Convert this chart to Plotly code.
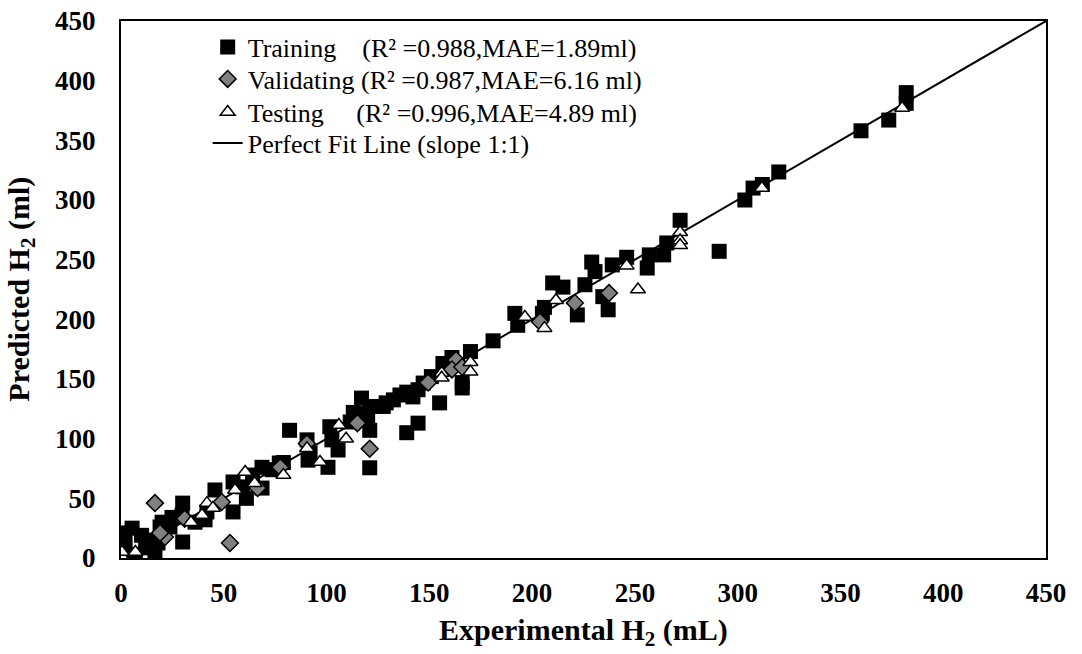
import plotly.graph_objects as go

# Training (black squares)
train_x = [0.5, 0, 5.4, 10, 15, 16.5, 7, 12, 18, 2, 4,
           19, 23.8, 20, 24.8, 29.7, 30, 30, 36, 40.9, 41.8, 45.7, 54.5, 54.5, 61, 59, 64, 68.6, 77, 68.6,
           73.5, 79, 82, 90.5, 91, 92, 101.6, 102.6, 105.6, 100.7, 117, 118, 121, 121, 113, 120, 111.5, 121,
           127.6, 129, 132.5, 135.7, 139, 142, 144.5, 147, 151, 155, 156.6, 161, 170, 166, 166, 144.5, 139,
           181, 191.6, 193, 205, 206, 210, 215, 222, 225.7, 229, 230.6, 234.4, 237, 239, 246, 256, 257, 264,
           265.5, 272, 291, 303.5, 307.5, 312, 320, 360, 373.5, 382, 382]
train_y = [21, 9, 25, 19, 15, 5, 1, 8.5, 12.6, 14, 3,
           26, 26, 30, 34, 36, 46, 13.4, 30, 32, 38.6, 57, 63.7, 38.6, 50, 59.6, 69.5, 76, 79.6, 58.6,
           74, 80, 107, 99, 82, 88, 110, 99, 90.5, 76, 134, 121, 127, 107, 122, 116, 114, 75.6,
           127, 130, 132.5, 136.6, 139, 135, 141, 146.6, 152, 130, 163, 168, 173, 142.5, 147, 113, 105,
           182, 205, 195, 205, 210, 230.5, 227, 203.7, 229, 248, 240, 219, 208, 245.6, 252, 243, 254, 254,
           264, 283, 257, 300, 310, 313, 323.5, 358, 367, 390, 381]

# Validating (grey diamonds)
val_x = [16.5, 21.4, 19, 31, 49, 53, 66.5, 77.5, 90.4, 115, 121, 149.4, 163, 161, 166, 203.8, 220.8, 237.4]
val_y = [46, 17.6, 21, 33, 47, 12.6, 58.6, 76, 96, 113, 91.6, 147, 166, 158, 160, 198, 213.7, 222]

# Testing (open triangles)
test_x = [0, 0, 0.5, 7, 34, 39.4, 41.8, 44.7, 55.5, 60.4, 65, 79, 90.5, 96.8, 106, 109.5,
          156, 156, 170, 170, 196.5, 206, 211.6, 246, 251.5, 272, 272, 272, 311.8, 380]
test_y = [0, 2, 5, 5, 30, 36, 46, 42, 57, 72, 62.6, 69.5, 92, 80.5, 111.5, 100,
          155, 151, 164, 156, 202, 192.6, 216, 245, 225, 273, 266, 262, 310, 377]

fit_x = [0, 450]
fit_y = [0, 450]

x_ticks = [0, 50, 100, 150, 200, 250, 300, 350, 400, 450]
y_ticks = [0, 50, 100, 150, 200, 250, 300, 350, 400, 450]

NB = "\u00a0"
FONT = "Liberation Serif, Times New Roman, serif"

fig = go.Figure()
fig.add_trace(go.Scatter(x=fit_x, y=fit_y, mode="lines", line=dict(color="black", width=2),
                         name="Perfect Fit Line (slope 1:1)", legend="legend4"))
fig.add_trace(go.Scatter(x=train_x, y=train_y, mode="markers",
                         marker=dict(symbol="square", size=15, color="black"),
                         name="Training" + NB * 4 + "(R\u00b2 =0.988,MAE=1.89ml)", legend="legend"))
fig.add_trace(go.Scatter(x=val_x, y=val_y, mode="markers",
                         marker=dict(symbol="diamond", size=13, color="#808080",
                                     line=dict(color="black", width=1.5)),
                         name="Validating (R\u00b2 =0.987,MAE=6.16 ml)", legend="legend2"))
fig.add_trace(go.Scatter(x=test_x, y=test_y, mode="markers",
                         marker=dict(symbol="triangle-up", size=13, color="white",
                                     line=dict(color="black", width=1.5)),
                         name="Testing" + NB * 5 + "(R\u00b2 =0.996,MAE=4.89 ml)", legend="legend3"))

axis_common = dict(
    showline=True, linecolor="black", linewidth=2, mirror=True,
    showgrid=False, zeroline=False, ticks="", automargin=False,
    ticklabeloverflow="allow",
    tickfont=dict(family=FONT, size=27, color="black", weight="bold"),
)

title_font = dict(family=FONT, size=30, color="black", weight="bold")


def legend_box(yc):
    return dict(x=0.0937, y=yc, xanchor="left", yanchor="middle",
                bgcolor="rgba(0,0,0,0)", font=dict(family=FONT, size=26, color="black"),
                itemwidth=30)


fig.update_layout(
    width=1082, height=654,
    margin=dict(l=121, r=36, t=21, b=96),
    plot_bgcolor="white", paper_bgcolor="white",
    font=dict(family=FONT, color="black"),
    showlegend=True,
    legend=legend_box(0.9516),
    legend2=legend_box(0.8920),
    legend3=legend_box(0.8305),
    legend4=legend_box(0.7728),
    xaxis=dict(range=[0, 450], tickvals=x_ticks, ticktext=[str(v) for v in x_ticks],
               ticklabelstandoff=10, **axis_common),
    yaxis=dict(range=[0, 450], tickvals=y_ticks, ticktext=[str(v) for v in y_ticks],
               ticklabelstandoff=18, **axis_common),
    annotations=[
        dict(text="Experimental H<sub>2</sub> (mL)", xref="paper", yref="paper",
             x=0.5, y=-0.138, xanchor="center", yanchor="middle", showarrow=False,
             font=title_font),
        dict(text="Predicted H<sub>2</sub> (ml)", xref="paper", yref="paper",
             x=-0.109, y=0.5, xanchor="center", yanchor="middle", showarrow=False,
             textangle=-90, font=title_font),
    ],
)

fig.write_html("out.html", config={"displayModeBar": False},
               post_script="document.body.style.margin='0';")
